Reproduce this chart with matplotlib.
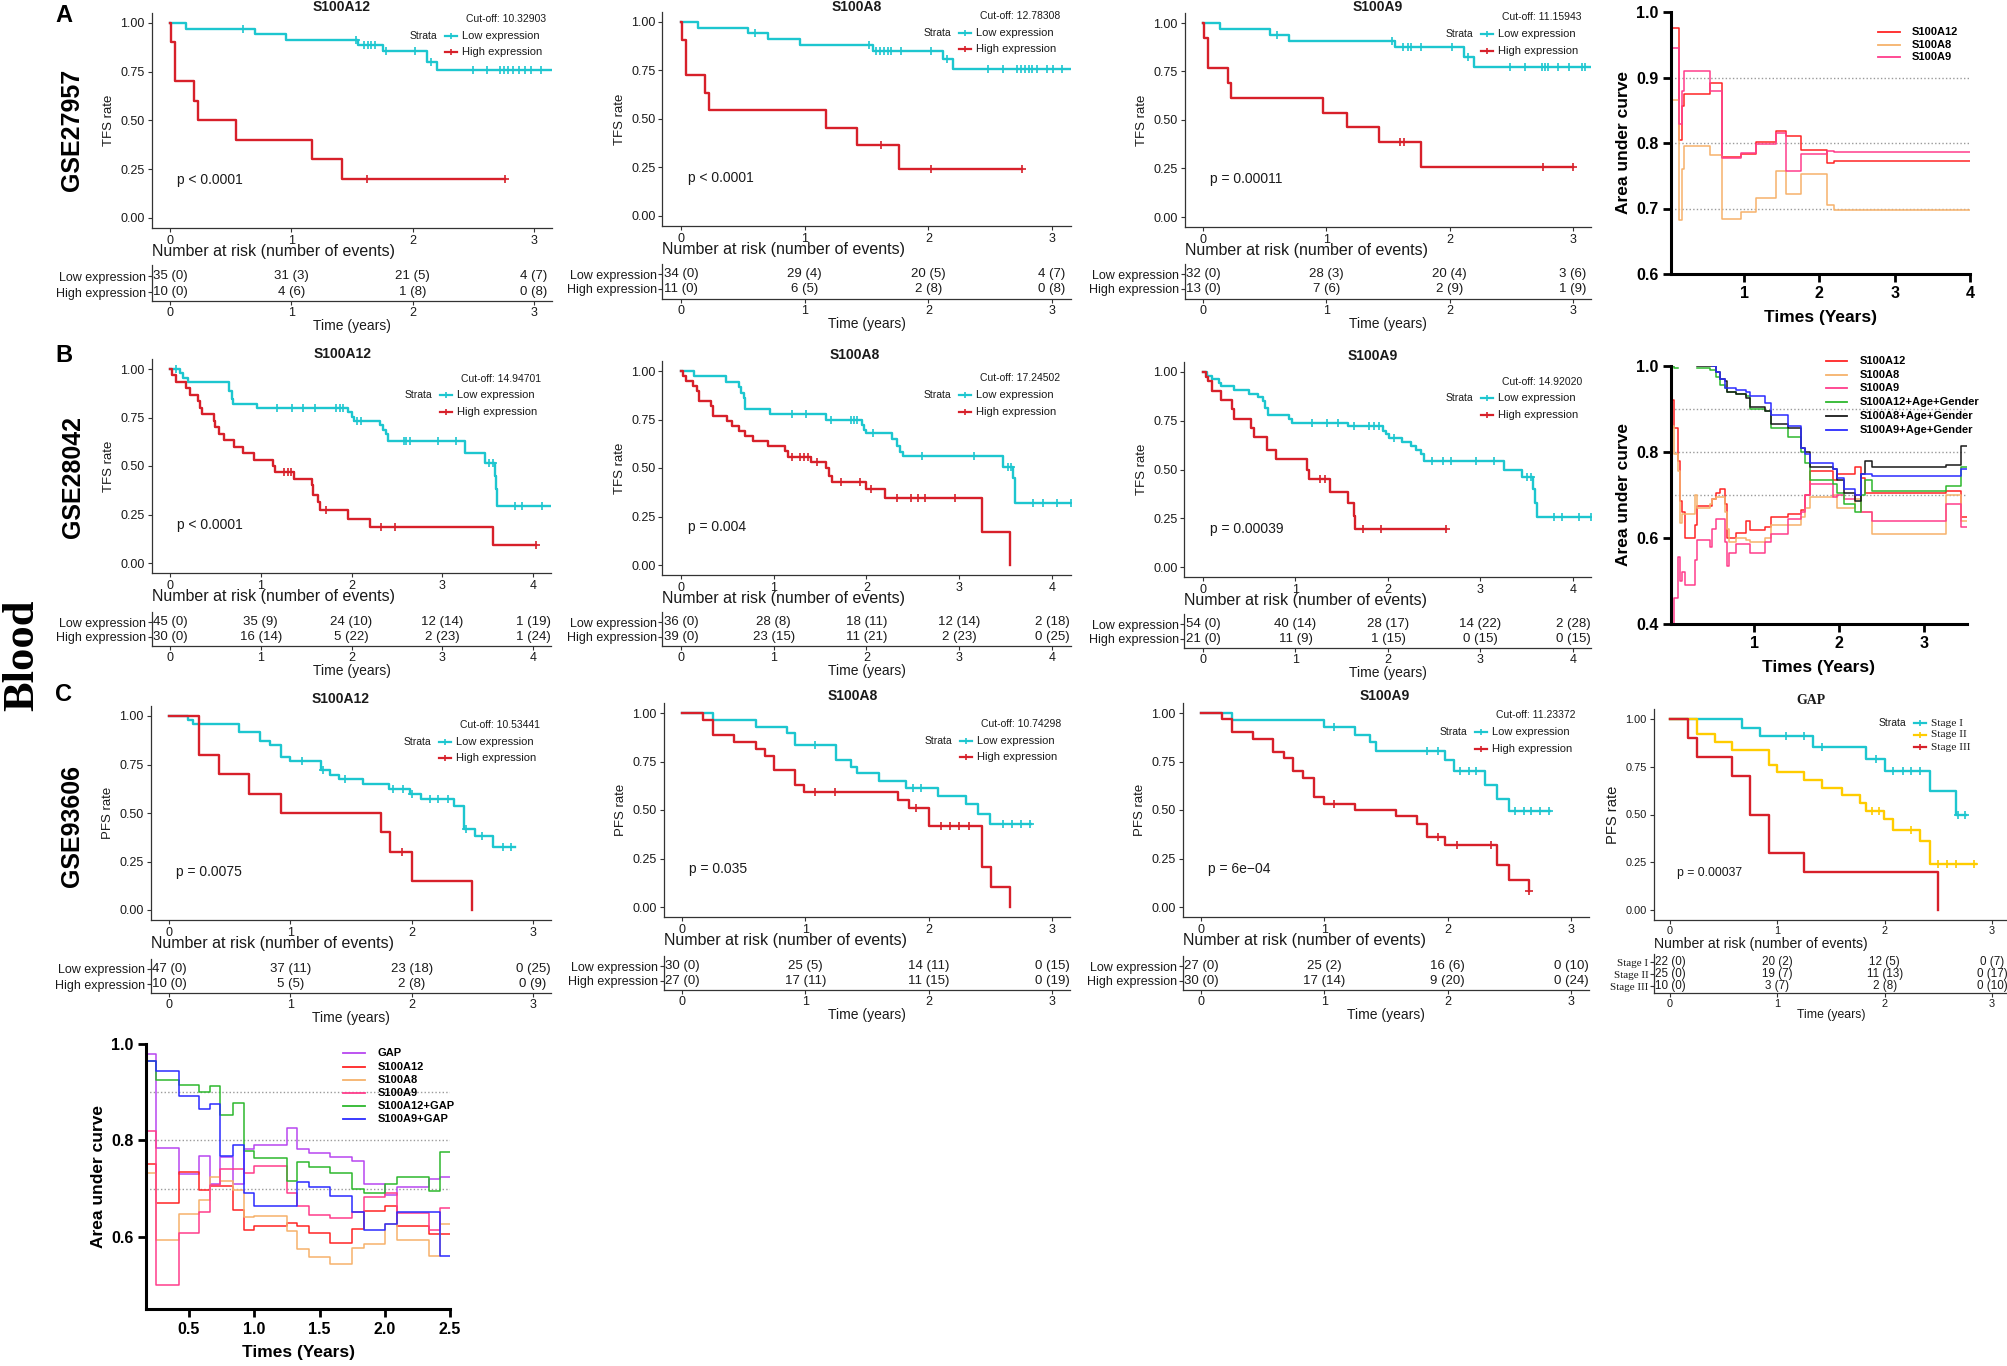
import numpy as np
import matplotlib.pyplot as plt
from matplotlib.lines import Line2D

plt.rcParams['font.family'] = ['Liberation Sans', 'DejaVu Sans']
nan = np.nan

# ---------------- Kaplan-Meier curves ----------------
# row A : GSE27957, TFS
A_a12_lo_t = [0, 0.13, 0.70, 0.96, 1.55, 1.76, 2.12, 2.20]
A_a12_lo_s = [1.0, 0.971, 0.943, 0.914, 0.886, 0.857, 0.800, 0.757]
A_a12_lo_c = [0.6, 1.53, 1.6, 1.63, 1.66, 1.69, 1.78, 2.02, 2.15, 2.5, 2.61, 2.72, 2.75,
              2.79, 2.83, 2.88, 2.93, 2.98, 3.06]
A_a12_lo_end = 3.15
A_a12_hi_t = [0, 0.01, 0.04, 0.20, 0.23, 0.54, 1.17, 1.42]
A_a12_hi_s = [1.0, 0.9, 0.7, 0.6, 0.5, 0.4, 0.3, 0.2]
A_a12_hi_c = [1.62, 2.76]
A_a12_hi_end = 2.76
A_a12_lo_n, A_a12_lo_e = [35, 31, 21, 4], [0, 3, 5, 7]
A_a12_hi_n, A_a12_hi_e = [10, 4, 1, 0], [0, 6, 8, 8]

A_a8_lo_t = [0, 0.14, 0.54, 0.70, 0.96, 1.55, 2.12, 2.20]
A_a8_lo_s = [1.0, 0.971, 0.941, 0.912, 0.882, 0.853, 0.810, 0.758]
A_a8_lo_c = [0.6, 1.52, 1.58, 1.61, 1.64, 1.67, 1.7, 1.78, 2.02, 2.15, 2.48, 2.6, 2.72, 2.75,
             2.78, 2.81, 2.84, 2.88, 2.96, 3.01, 3.08]
A_a8_lo_end = 3.15
A_a8_hi_t = [0, 0.01, 0.04, 0.19, 0.23, 1.17, 1.42, 1.76]
A_a8_hi_s = [1.0, 0.909, 0.727, 0.636, 0.545, 0.455, 0.364, 0.243]
A_a8_hi_c = [1.62, 2.02, 2.76]
A_a8_hi_end = 2.76
A_a8_lo_n, A_a8_lo_e = [34, 29, 20, 4], [0, 4, 5, 7]
A_a8_hi_n, A_a8_hi_e = [11, 6, 2, 0], [0, 5, 8, 8]

A_a9_lo_t = [0, 0.14, 0.54, 0.70, 1.56, 2.12, 2.20]
A_a9_lo_s = [1.0, 0.969, 0.938, 0.906, 0.875, 0.827, 0.772]
A_a9_lo_c = [0.6, 1.53, 1.62, 1.66, 1.69, 1.77, 2.02, 2.15, 2.49, 2.61, 2.75, 2.77, 2.8,
             2.88, 2.97, 3.07, 3.1]
A_a9_lo_end = 3.15
A_a9_hi_t = [0, 0.01, 0.04, 0.20, 0.23, 0.97, 1.17, 1.43, 1.77]
A_a9_hi_s = [1.0, 0.923, 0.769, 0.692, 0.615, 0.538, 0.462, 0.385, 0.256]
A_a9_hi_c = [1.6, 1.63, 2.76, 3.0]
A_a9_hi_end = 3.0
A_a9_lo_n, A_a9_lo_e = [32, 28, 20, 3], [0, 3, 4, 6]
A_a9_hi_n, A_a9_hi_e = [13, 7, 2, 1], [0, 6, 9, 9]

# row B : GSE28042, TFS
B_a12_lo_t = [0, 0.11, 0.14, 0.20, 0.65, 0.68, 0.69, 0.96, 1.96, 2.00, 2.03, 2.31, 2.35,
              2.38, 2.40, 3.25, 3.47, 3.58, 3.59, 3.60]
B_a12_lo_s = [1.0, 0.978, 0.956, 0.933, 0.889, 0.844, 0.822, 0.800, 0.777, 0.755, 0.733,
              0.710, 0.688, 0.665, 0.627, 0.567, 0.513, 0.447, 0.380, 0.295]
B_a12_lo_c = [0.07, 1.18, 1.34, 1.47, 1.6, 1.83, 1.87, 1.91, 2.06, 2.1, 2.58, 2.6, 2.65,
              2.95, 3.15, 3.52, 3.56, 3.8, 3.88, 4.1]
B_a12_lo_end = 4.2
B_a12_hi_t = [0, 0.02, 0.07, 0.18, 0.22, 0.31, 0.33, 0.35, 0.49, 0.50, 0.54, 0.59, 0.71,
              0.80, 0.93, 1.13, 1.16, 1.37, 1.56, 1.58, 1.63, 1.65, 1.96, 2.20, 3.56]
B_a12_hi_s = [1.0, 0.967, 0.933, 0.900, 0.867, 0.833, 0.800, 0.767, 0.733, 0.700, 0.667,
              0.633, 0.600, 0.567, 0.533, 0.500, 0.467, 0.433, 0.400, 0.350, 0.317, 0.275,
              0.229, 0.183, 0.092]
B_a12_hi_c = [1.26, 1.3, 1.33, 1.72, 2.32, 2.48, 4.03]
B_a12_hi_end = 4.03
B_a12_lo_n, B_a12_lo_e = [45, 35, 24, 12, 1], [0, 9, 10, 14, 19]
B_a12_hi_n, B_a12_hi_e = [30, 16, 5, 2, 1], [0, 14, 22, 23, 24]

B_a8_lo_t = [0, 0.14, 0.49, 0.62, 0.65, 0.68, 0.69, 0.96, 1.56, 1.95, 1.97, 2.00, 2.27,
             2.33, 2.36, 2.39, 3.47, 3.58, 3.60]
B_a8_lo_s = [1.0, 0.972, 0.944, 0.917, 0.889, 0.861, 0.806, 0.778, 0.750, 0.720, 0.694,
             0.679, 0.647, 0.613, 0.580, 0.562, 0.507, 0.450, 0.318]
B_a8_lo_c = [1.2, 1.35, 1.62, 1.83, 1.87, 1.9, 2.07, 2.6, 3.16, 3.53, 3.56, 3.8, 3.9,
             4.05, 4.2]
B_a8_lo_end = 4.2
B_a8_hi_t = [0, 0.02, 0.05, 0.13, 0.17, 0.19, 0.32, 0.34, 0.50, 0.55, 0.62, 0.69, 0.78,
             0.94, 1.12, 1.15, 1.40, 1.56, 1.60, 1.63, 2.00, 2.20, 3.25, 3.55]
B_a8_hi_s = [1.0, 0.974, 0.949, 0.923, 0.897, 0.846, 0.821, 0.769, 0.744, 0.718, 0.692,
             0.667, 0.641, 0.615, 0.590, 0.558, 0.533, 0.498, 0.460, 0.426, 0.392, 0.345,
             0.172, 0.0]
B_a8_hi_c = [1.2, 1.28, 1.33, 1.37, 1.47, 1.73, 1.93, 2.05, 2.33, 2.48, 2.56, 2.63, 2.95]
B_a8_hi_end = 3.55
B_a8_lo_n, B_a8_lo_e = [36, 28, 18, 12, 2], [0, 8, 11, 14, 18]
B_a8_hi_n, B_a8_hi_e = [39, 23, 11, 2, 0], [0, 15, 21, 23, 25]

B_a9_lo_t = [0, 0.04, 0.10, 0.17, 0.20, 0.33, 0.50, 0.60, 0.65, 0.67, 0.70, 0.93, 0.96,
             1.57, 1.95, 1.98, 2.01, 2.15, 2.25, 2.30, 2.36, 2.39, 3.25, 3.45, 3.57, 3.59,
             3.61]
B_a9_lo_s = [1.0, 0.981, 0.963, 0.944, 0.926, 0.907, 0.889, 0.870, 0.852, 0.815, 0.778,
             0.759, 0.741, 0.724, 0.700, 0.680, 0.659, 0.640, 0.620, 0.600, 0.580, 0.546,
             0.500, 0.463, 0.400, 0.330, 0.256]
B_a9_lo_c = [1.18, 1.34, 1.46, 1.63, 1.8, 1.85, 1.9, 2.06, 2.48, 2.6, 2.68, 2.95, 3.15,
             3.5, 3.55, 3.8, 3.88, 4.07, 4.2]
B_a9_lo_end = 4.2
B_a9_hi_t = [0, 0.03, 0.05, 0.10, 0.20, 0.31, 0.33, 0.52, 0.55, 0.69, 0.79, 1.12, 1.15,
             1.37, 1.57, 1.63, 1.64]
B_a9_hi_s = [1.0, 0.976, 0.952, 0.905, 0.857, 0.810, 0.757, 0.712, 0.667, 0.600, 0.552,
             0.500, 0.453, 0.386, 0.326, 0.260, 0.193]
B_a9_hi_c = [1.27, 1.32, 1.73, 1.92, 2.63]
B_a9_hi_end = 2.63
B_a9_lo_n, B_a9_lo_e = [54, 40, 28, 14, 2], [0, 14, 17, 22, 28]
B_a9_hi_n, B_a9_hi_e = [21, 11, 1, 0, 0], [0, 9, 15, 15, 15]

# row C : GSE93606, PFS
C_a12_lo_t = [0, 0.16, 0.20, 0.58, 0.75, 0.83, 0.92, 1.00, 1.25, 1.33, 1.40, 1.60, 1.81,
              1.99, 2.08, 2.35, 2.43, 2.52, 2.67]
C_a12_lo_s = [1.0, 0.979, 0.957, 0.915, 0.872, 0.851, 0.787, 0.766, 0.722, 0.697, 0.673,
              0.647, 0.622, 0.598, 0.570, 0.535, 0.420, 0.380, 0.326]
C_a12_lo_c = [1.1, 1.27, 1.45, 1.85, 1.93, 2.0, 2.15, 2.22, 2.3, 2.45, 2.58, 2.75, 2.82]
C_a12_lo_end = 2.85
C_a12_hi_t = [0, 0.25, 0.41, 0.66, 0.92, 1.75, 1.82, 2.00, 2.50]
C_a12_hi_s = [1.0, 0.8, 0.7, 0.6, 0.5, 0.4, 0.3, 0.15, 0.0]
C_a12_hi_c = [1.92]
C_a12_hi_end = 2.5
C_a12_lo_n, C_a12_lo_e = [47, 37, 23, 0], [0, 11, 18, 25]
C_a12_hi_n, C_a12_hi_e = [10, 5, 2, 0], [0, 5, 8, 9]

C_a8_lo_t = [0, 0.25, 0.60, 0.85, 0.92, 1.25, 1.37, 1.42, 1.60, 1.82, 2.08, 2.30, 2.40, 2.50]
C_a8_lo_s = [1.0, 0.963, 0.926, 0.899, 0.833, 0.760, 0.720, 0.690, 0.650, 0.615, 0.570,
             0.530, 0.477, 0.427]
C_a8_lo_c = [1.08, 1.87, 1.94, 2.6, 2.68, 2.75, 2.82]
C_a8_lo_end = 2.83
C_a8_hi_t = [0, 0.17, 0.25, 0.42, 0.60, 0.67, 0.75, 0.92, 0.99, 1.75, 1.84, 2.00, 2.43,
             2.51, 2.66]
C_a8_hi_s = [1.0, 0.963, 0.889, 0.852, 0.815, 0.778, 0.704, 0.630, 0.593, 0.552, 0.510,
             0.415, 0.207, 0.103, 0.0]
C_a8_hi_c = [1.08, 1.24, 1.9, 2.1, 2.17, 2.25, 2.33]
C_a8_hi_end = 2.66
C_a8_lo_n, C_a8_lo_e = [30, 25, 14, 0], [0, 5, 11, 15]
C_a8_hi_n, C_a8_hi_e = [27, 17, 11, 0], [0, 11, 15, 19]

C_a9_lo_t = [0, 0.25, 1.00, 1.25, 1.37, 1.42, 1.98, 2.05, 2.30, 2.40, 2.50]
C_a9_lo_s = [1.0, 0.963, 0.926, 0.889, 0.852, 0.805, 0.760, 0.700, 0.628, 0.559, 0.494]
C_a9_lo_c = [1.08, 1.83, 1.92, 2.1, 2.17, 2.23, 2.55, 2.62, 2.68, 2.75, 2.82]
C_a9_lo_end = 2.83
C_a9_hi_t = [0, 0.17, 0.25, 0.42, 0.58, 0.67, 0.75, 0.83, 0.92, 1.00, 1.25, 1.58, 1.75,
             1.83, 1.98, 2.40, 2.50, 2.66]
C_a9_hi_s = [1.0, 0.967, 0.900, 0.867, 0.800, 0.767, 0.700, 0.667, 0.567, 0.533, 0.500,
             0.467, 0.430, 0.360, 0.320, 0.215, 0.140, 0.080]
C_a9_hi_c = [1.08, 1.92, 2.08, 2.35, 2.66]
C_a9_hi_end = 2.66
C_a9_lo_n, C_a9_lo_e = [27, 25, 16, 0], [0, 2, 6, 10]
C_a9_hi_n, C_a9_hi_e = [30, 17, 9, 0], [0, 14, 20, 24]

# GAP stages (GSE93606)
GAP_1_t = [0, 0.67, 0.84, 1.33, 1.83, 2.00, 2.42, 2.67]
GAP_1_s = [1.0, 0.955, 0.909, 0.852, 0.790, 0.726, 0.625, 0.500]
GAP_1_c = [1.08, 1.25, 1.42, 1.92, 2.08, 2.17, 2.25, 2.33, 2.68, 2.75]
GAP_1_end = 2.76
GAP_2_t = [0, 0.25, 0.42, 0.58, 0.92, 1.00, 1.25, 1.42, 1.60, 1.77, 1.83, 1.99, 2.08, 2.33, 2.42]
GAP_2_s = [1.0, 0.92, 0.88, 0.84, 0.76, 0.72, 0.68, 0.64, 0.60, 0.56, 0.52, 0.475, 0.42, 0.36, 0.24]
GAP_2_c = [1.88, 1.95, 2.25, 2.5, 2.58, 2.67, 2.83]
GAP_2_end = 2.85
GAP_3_t = [0, 0.17, 0.25, 0.58, 0.75, 0.92, 1.25, 2.50]
GAP_3_s = [1.0, 0.9, 0.8, 0.7, 0.5, 0.3, 0.2, 0.0]
GAP_3_c = []
GAP_3_end = 2.5
GAP_1_n, GAP_1_e = [22, 20, 12, 0], [0, 2, 5, 7]
GAP_2_n, GAP_2_e = [25, 19, 11, 0], [0, 7, 13, 17]
GAP_3_n, GAP_3_e = [10, 3, 2, 0], [0, 7, 8, 10]

# ---------------- time-dependent AUC curves ----------------
AUC_A_t = [0.025, 0.04, 0.13, 0.18, 0.20, 0.55, 0.71, 0.96, 1.16, 1.42, 1.56, 1.76, 2.10, 2.20]
AUC_A_a12 = [0.96, 0.976, 0.805, 0.856, 0.875, 0.891, 0.778, 0.783, 0.802, 0.818, 0.81, 0.79, 0.769, 0.772]
AUC_A_a8 = [0.77, 0.865, 0.683, 0.76, 0.795, 0.782, 0.684, 0.695, 0.716, 0.757, 0.722, 0.752, 0.705, 0.698]
AUC_A_a9 = [0.93, 0.945, 0.829, 0.88, 0.91, 0.88, 0.777, 0.785, 0.798, 0.815, 0.758, 0.783, 0.788, 0.786]

AUC_B_t = [0.02, 0.05, 0.10, 0.12, 0.15, 0.18, 0.30, 0.33, 0.48, 0.50, 0.55, 0.60, 0.65,
           0.68, 0.70, 0.78, 0.90, 0.95, 1.12, 1.20, 1.40, 1.55, 1.60, 1.65, 1.92, 1.97,
           2.05, 2.18, 2.25, 2.30, 2.38, 3.25, 3.43]
AUC_B_a12 = [0.92, 0.855, 0.78, 0.685, 0.66, 0.60, 0.63, 0.675, 0.675, 0.69, 0.705, 0.715,
             0.68, 0.60, 0.60, 0.612, 0.64, 0.618, 0.625, 0.65, 0.655, 0.665, 0.70, 0.755,
             0.735, 0.75, 0.75, 0.765, 0.74, 0.705, 0.705, 0.71, 0.65]
AUC_B_a8 = [0.86, 0.795, 0.755, 0.635, 0.655, 0.655, 0.70, 0.67, 0.68, 0.69, 0.695, 0.695,
            0.66, 0.62, 0.59, 0.60, 0.595, 0.59, 0.60, 0.63, 0.63, 0.65, 0.67, 0.695, 0.70,
            0.67, 0.67, 0.69, 0.66, 0.66, 0.61, 0.70, 0.64]
AUC_B_a9 = [0.40, 0.46, 0.555, 0.50, 0.52, 0.49, 0.55, 0.595, 0.58, 0.62, 0.645, 0.645,
            0.59, 0.535, 0.565, 0.585, 0.585, 0.565, 0.59, 0.61, 0.645, 0.66, 0.70, 0.725,
            0.695, 0.70, 0.69, 0.70, 0.66, 0.66, 0.64, 0.68, 0.625]
AUC_B_a12ag = [1.0, 0.995, nan, nan, nan, nan, nan, 0.995, 0.99, 0.99, 0.975, 0.955, 0.95,
               0.94, 0.94, 0.935, 0.93, 0.90, 0.895, 0.855, 0.835, 0.80, 0.775, 0.735,
               0.725, 0.705, 0.68, 0.66, 0.70, 0.735, 0.71, 0.72, 0.765]
AUC_B_a8ag = [nan, nan, nan, nan, nan, nan, nan, 1.0, 1.0, 1.0, 0.985, 0.97, 0.965, 0.94,
              0.94, 0.935, 0.925, 0.905, 0.895, 0.865, 0.855, 0.81, 0.80, 0.765, 0.76,
              0.735, 0.705, 0.685, 0.75, 0.78, 0.765, 0.77, 0.815]
AUC_B_a9ag = [nan, nan, nan, nan, nan, nan, nan, nan, nan, 1.0, 0.985, 0.97, 0.95, 0.95,
              0.95, 0.945, 0.94, 0.93, 0.915, 0.885, 0.86, 0.81, 0.795, 0.775, 0.76, 0.74,
              0.715, 0.70, 0.75, 0.75, 0.745, 0.745, 0.76]

AUC_D_t = [0.17, 0.25, 0.42, 0.58, 0.66, 0.74, 0.84, 0.92, 1.00, 1.25, 1.33, 1.42, 1.58,
           1.75, 1.84, 2.00, 2.09, 2.34, 2.42]
AUC_D_gap = [0.98, 0.785, 0.73, 0.768, 0.71, 0.765, 0.71, 0.782, 0.79, 0.825, 0.783, 0.773,
             0.765, 0.757, 0.71, 0.687, 0.703, 0.72, 0.724]
AUC_D_a12 = [0.75, 0.67, 0.735, 0.697, 0.705, 0.705, 0.655, 0.615, 0.623, 0.628, 0.623,
             0.607, 0.587, 0.617, 0.653, 0.663, 0.622, 0.606, 0.606]
AUC_D_a8 = [0.733, 0.594, 0.648, 0.677, 0.725, 0.715, 0.697, 0.64, 0.643, 0.612, 0.575,
            0.558, 0.543, 0.577, 0.585, 0.627, 0.594, 0.56, 0.627]
AUC_D_a9 = [0.82, 0.5, 0.608, 0.652, 0.707, 0.74, 0.74, 0.732, 0.747, 0.69, 0.663, 0.646,
            0.639, 0.651, 0.683, 0.69, 0.65, 0.613, 0.66]
AUC_D_a12gap = [0.965, 0.925, 0.915, 0.90, 0.912, 0.852, 0.877, 0.778, 0.764, 0.716, 0.756,
                0.745, 0.732, 0.70, 0.69, 0.71, 0.724, 0.695, 0.775]
AUC_D_a9gap = [0.965, 0.945, 0.893, 0.866, 0.875, 0.768, 0.79, 0.69, 0.663, 0.663, 0.714,
               0.704, 0.685, 0.651, 0.615, 0.626, 0.652, 0.652, 0.56]

# ---------------- drawing ----------------
W, H = 2008, 1366
fig = plt.figure(figsize=(W / 100, H / 100), dpi=100)

CYAN = '#1dc6cf'
RED = '#d7202a'
GOLD = '#ffcc00'
INK = '#1a1a1a'
AXC = '#333333'
SERIF = ['Liberation Serif', 'DejaVu Serif']


def px_axes(left, top, right, bottom):
    return fig.add_axes([left / W, 1 - bottom / H, (right - left) / W, (bottom - top) / H])


def ftext(x, y, s, **kw):
    return fig.text(x / W, 1 - y / H, s, **kw)


def fline(x1, x2, y, **kw):
    fig.add_artist(Line2D([x1 / W, x2 / W], [1 - y / H, 1 - y / H], **kw))


def km_panel(pos, tmax, curves, names, title, ylab, pval, cutoff, leg, risk, rowpx,
             k=1.0, serif=False):
    x0, xper, y1, y0 = pos
    yper = y0 - y1
    xlim = (-0.05 * tmax, 1.05 * tmax)
    left, right = x0 + xlim[0] * xper, x0 + xlim[1] * xper
    bottom = y0 + 0.05 * yper
    ticks = list(range(tmax + 1))
    nfam = SERIF if serif else None

    ax = px_axes(left, y1 - 0.05 * yper, right, bottom)
    for t, s, c, end, col in curves:
        ax.step(t + [end], s + [s[-1]], where='post', color=col, lw=1.7)
        if c:
            i = np.searchsorted(t, c, side='right') - 1
            ax.plot(c, np.asarray(s)[i], ls='none', marker='+', ms=5.5, mew=1.2, color=col)
    ax.set_xlim(xlim)
    ax.set_ylim(-0.05, 1.05)
    ax.set_xticks(ticks)
    ax.set_yticks([0, 0.25, 0.5, 0.75, 1.0], ['0.00', '0.25', '0.50', '0.75', '1.00'])
    for sp in ('top', 'right'):
        ax.spines[sp].set_visible(False)
    for sp in ('left', 'bottom'):
        ax.spines[sp].set_color(AXC)
        ax.spines[sp].set_linewidth(0.9)
    ax.tick_params(labelsize=9 * k, length=3, pad=2, color=AXC, labelcolor=INK)
    ax.set_ylabel(ylab, fontsize=9.5 * (1.12 if serif else 1), labelpad=4, color=INK)
    name, tx, ty = title
    ftext(tx, ty, name, ha='center', va='center', fontsize=10, fontweight='bold',
          family=nfam, color=INK)
    ax.text(7 / xper, 0.195, pval, fontsize=10 * k, va='center', color=INK)

    # legend
    R, ycut, rows = leg
    if cutoff:
        ftext(R, ycut, cutoff, ha='right', va='center', fontsize=7.5, color=INK)
    ftext(R - 109, rows[0], 'Strata', ha='right', va='center', fontsize=7.5, color=INK)
    for yy, nm, cv in zip(rows, names, curves):
        fline(R - 101, R - 89, yy, color=cv[4], lw=1.6)
        fig.add_artist(Line2D([(R - 95) / W], [1 - yy / H], marker='+', ms=5, mew=1.2,
                              color=cv[4]))
        ftext(R - 84, yy, nm, va='center', fontsize=8 * (1.02 if serif else 1), color=INK,
              family=nfam)

    ftext(left, bottom + 24, 'Number at risk (number of events)', va='center',
          fontsize=11.5 * k, color=INK)

    # risk table
    ytop, ybot, yline = rowpx
    nr = len(risk)
    d = (ybot - ytop) / (nr - 1)
    rax = px_axes(left, ytop - 0.7 * d, right, yline)
    rax.set_xlim(xlim)
    rax.set_ylim(1 - (yline - ybot) / d, nr + 0.7)
    for i, (n, e) in enumerate(risk):
        for tk, nn, ee in zip(ticks, n, e):
            rax.text(tk, nr - i, f'{nn} ({ee})', ha='center', va='center',
                     fontsize=9.5 * k, color=INK)
    rax.set_xticks(ticks)
    rax.set_yticks(list(range(nr, 0, -1)))
    if serif:
        rax.set_yticklabels(names, family=SERIF, fontsize=8)
    else:
        rax.set_yticklabels(names, fontsize=9)
    for sp in ('top', 'right'):
        rax.spines[sp].set_visible(False)
    for sp in ('left', 'bottom'):
        rax.spines[sp].set_color(AXC)
        rax.spines[sp].set_linewidth(0.9)
    rax.tick_params(axis='x', labelsize=9 * k, length=3, pad=1, color=AXC, labelcolor=INK)
    rax.tick_params(axis='y', length=3, pad=1, color=AXC, labelcolor=INK)
    rax.set_xlabel('Time (years)', fontsize=10 * k, labelpad=0, color=INK)


def auc_panel(rect, xlim, ylim, xticks, xlabs, yticks, ylabs, t, end, series, leg):
    ax = px_axes(*rect)
    for yv in (0.7, 0.8, 0.9):
        ax.plot(xlim, [yv, yv], color='#9a9a9a', lw=1.0, ls=(0, (1, 1.6)), zorder=0)
    for vals, col, lab in series:
        ax.step(t + [end], vals + [vals[-1]], where='post', color=col, lw=1.1)
    ax.set_xlim(xlim)
    ax.set_ylim(ylim)
    ax.set_xticks(xticks, xlabs, fontweight='bold', fontsize=11.5)
    ax.set_yticks(yticks, ylabs, fontweight='bold', fontsize=11.5)
    for sp in ('top', 'right'):
        ax.spines[sp].set_visible(False)
    for sp in ('left', 'bottom'):
        ax.spines[sp].set_linewidth(2.2)
        ax.spines[sp].set_color('black')
    ax.tick_params(width=2, length=6, pad=3)
    ax.set_xlabel('Times (Years)', fontsize=12.5, fontweight='bold', labelpad=6)
    ax.set_ylabel('Area under curve', fontsize=12.5, fontweight='bold', labelpad=4)
    x1, x2, xt, rows = leg
    for yy, (vals, col, lab) in zip(rows, series):
        fline(x1, x2, yy, color=col, lw=1.3)
        ftext(xt, yy, lab, va='center', fontsize=8, fontweight='bold')


LOHI = ['Low expression', 'High expression']

# ---- row A ----
km_panel((170, 121.3, 23, 218), 3,
         [(A_a12_lo_t, A_a12_lo_s, A_a12_lo_c, A_a12_lo_end, CYAN),
          (A_a12_hi_t, A_a12_hi_s, A_a12_hi_c, A_a12_hi_end, RED)],
         LOHI, ('S100A12', 342, 7), 'TFS rate', 'p < 0.0001', 'Cut-off: 10.32903',
         (546, 19, [36, 52]),
         [(A_a12_lo_n, A_a12_lo_e), (A_a12_hi_n, A_a12_hi_e)], (276, 292, 301))
km_panel((681, 123.7, 22, 216), 3,
         [(A_a8_lo_t, A_a8_lo_s, A_a8_lo_c, A_a8_lo_end, CYAN),
          (A_a8_hi_t, A_a8_hi_s, A_a8_hi_c, A_a8_hi_end, RED)],
         LOHI, ('S100A8', 857, 7), 'TFS rate', 'p < 0.0001', 'Cut-off: 12.78308',
         (1060, 16, [33, 49]),
         [(A_a8_lo_n, A_a8_lo_e), (A_a8_hi_n, A_a8_hi_e)], (274, 289, 299))
km_panel((1203, 123.3, 23, 217), 3,
         [(A_a9_lo_t, A_a9_lo_s, A_a9_lo_c, A_a9_lo_end, CYAN),
          (A_a9_hi_t, A_a9_hi_s, A_a9_hi_c, A_a9_hi_end, RED)],
         LOHI, ('S100A9', 1378, 7), 'TFS rate', 'p = 0.00011', 'Cut-off: 11.15943',
         (1582, 17, [34, 51]),
         [(A_a9_lo_n, A_a9_lo_e), (A_a9_hi_n, A_a9_hi_e)], (274, 289, 299))

# ---- row B ----
km_panel((170, 90.75, 369, 563), 4,
         [(B_a12_lo_t, B_a12_lo_s, B_a12_lo_c, B_a12_lo_end, CYAN),
          (B_a12_hi_t, B_a12_hi_s, B_a12_hi_c, B_a12_hi_end, RED)],
         LOHI, ('S100A12', 343, 354), 'TFS rate', 'p < 0.0001', 'Cut-off: 14.94701',
         (541, 379, [395, 412]),
         [(B_a12_lo_n, B_a12_lo_e), (B_a12_hi_n, B_a12_hi_e)], (622, 637, 646))
km_panel((681, 92.75, 371, 565), 4,
         [(B_a8_lo_t, B_a8_lo_s, B_a8_lo_c, B_a8_lo_end, CYAN),
          (B_a8_hi_t, B_a8_hi_s, B_a8_hi_c, B_a8_hi_end, RED)],
         LOHI, ('S100A8', 855, 355), 'TFS rate', 'p = 0.004', 'Cut-off: 17.24502',
         (1060, 378, [395, 412]),
         [(B_a8_lo_n, B_a8_lo_e), (B_a8_hi_n, B_a8_hi_e)], (622, 637, 646))
km_panel((1203, 92.5, 372, 567), 4,
         [(B_a9_lo_t, B_a9_lo_s, B_a9_lo_c, B_a9_lo_end, CYAN),
          (B_a9_hi_t, B_a9_hi_s, B_a9_hi_c, B_a9_hi_end, RED)],
         LOHI, ('S100A9', 1373, 356), 'TFS rate', 'p = 0.00039', 'Cut-off: 14.92020',
         (1582, 382, [398, 415]),
         [(B_a9_lo_n, B_a9_lo_e), (B_a9_hi_n, B_a9_hi_e)], (624, 639, 648))

# ---- row C ----
km_panel((169, 121.3, 716, 910), 3,
         [(C_a12_lo_t, C_a12_lo_s, C_a12_lo_c, C_a12_lo_end, CYAN),
          (C_a12_hi_t, C_a12_hi_s, C_a12_hi_c, C_a12_hi_end, RED)],
         LOHI, ('S100A12', 341, 699), 'PFS rate', 'p = 0.0075', 'Cut-off: 10.53441',
         (540, 725, [742, 758]),
         [(C_a12_lo_n, C_a12_lo_e), (C_a12_hi_n, C_a12_hi_e)], (969, 984, 993))
km_panel((682, 123.3, 713, 907), 3,
         [(C_a8_lo_t, C_a8_lo_s, C_a8_lo_c, C_a8_lo_end, CYAN),
          (C_a8_hi_t, C_a8_hi_s, C_a8_hi_c, C_a8_hi_end, RED)],
         LOHI, ('S100A8', 853, 696), 'PFS rate', 'p = 0.035', 'Cut-off: 10.74298',
         (1061, 724, [741, 757]),
         [(C_a8_lo_n, C_a8_lo_e), (C_a8_hi_n, C_a8_hi_e)], (966, 981, 990))
km_panel((1201, 123.3, 713, 907), 3,
         [(C_a9_lo_t, C_a9_lo_s, C_a9_lo_c, C_a9_lo_end, CYAN),
          (C_a9_hi_t, C_a9_hi_s, C_a9_hi_c, C_a9_hi_end, RED)],
         LOHI, ('S100A9', 1385, 696), 'PFS rate', 'p = 6e\u221204', 'Cut-off: 11.23372',
         (1576, 715, [732, 749]),
         [(C_a9_lo_n, C_a9_lo_e), (C_a9_hi_n, C_a9_hi_e)], (966, 981, 990))
km_panel((1670, 107.3, 719, 910), 3,
         [(GAP_1_t, GAP_1_s, GAP_1_c, GAP_1_end, CYAN),
          (GAP_2_t, GAP_2_s, GAP_2_c, GAP_2_end, GOLD),
          (GAP_3_t, GAP_3_s, GAP_3_c, GAP_3_end, RED)],
         ['Stage I', 'Stage II', 'Stage III'], ('GAP', 1811, 700), 'PFS rate',
         'p = 0.00037', None, (2015, 0, [723, 735, 747]),
         [(GAP_1_n, GAP_1_e), (GAP_2_n, GAP_2_e), (GAP_3_n, GAP_3_e)], (962, 986, 993),
         k=0.88, serif=True)

# ---- AUC panels ----
A_RED, A_ORG, A_PNK = '#ff2424', '#f6b26b', '#ff3d8b'
auc_panel((1671, 12, 1970, 274), (0.03, 4.0), (0.6, 1.0), [1, 2, 3, 4], ['1', '2', '3', '4'],
          [0.6, 0.7, 0.8, 0.9, 1.0], ['0.6', '0.7', '0.8', '0.9', '1.0'], AUC_A_t, 4.0,
          [(AUC_A_a12, A_RED, 'S100A12'), (AUC_A_a8, A_ORG, 'S100A8'),
           (AUC_A_a9, A_PNK, 'S100A9')],
          (1878, 1900, 1912, [32, 45, 57]))
auc_panel((1671, 366, 1967, 624), (0.02, 3.5), (0.4, 1.0), [1, 2, 3], ['1', '2', '3'],
          [0.4, 0.6, 0.8, 1.0], ['0.4', '0.6', '0.8', '1.0'], AUC_B_t, 3.5,
          [(AUC_B_a12, A_RED, 'S100A12'), (AUC_B_a8, A_ORG, 'S100A8'),
           (AUC_B_a9, A_PNK, 'S100A9'), (AUC_B_a12ag, '#2db82d', 'S100A12+Age+Gender'),
           (AUC_B_a8ag, '#1a1a1a', 'S100A8+Age+Gender'),
           (AUC_B_a9ag, '#2b2bff', 'S100A9+Age+Gender')],
          (1826, 1847, 1860, [361, 375, 388, 402, 416, 430]))
auc_panel((146, 1044, 450, 1309), (0.17, 2.5), (0.45, 1.0), [0.5, 1.0, 1.5, 2.0, 2.5],
          ['0.5', '1.0', '1.5', '2.0', '2.5'], [0.6, 0.8, 1.0], ['0.6', '0.8', '1.0'],
          AUC_D_t, 2.5,
          [(AUC_D_gap, '#b847f0', 'GAP'), (AUC_D_a12, A_RED, 'S100A12'),
           (AUC_D_a8, A_ORG, 'S100A8'), (AUC_D_a9, A_PNK, 'S100A9'),
           (AUC_D_a12gap, '#2db82d', 'S100A12+GAP'), (AUC_D_a9gap, '#2b2bff', 'S100A9+GAP')],
          (343, 365, 378, [1053, 1067, 1080, 1093, 1106, 1119]))

# ---- panel letters and side labels ----
for lab, yy in (('A', 15), ('B', 355), ('C', 695)):
    ftext(64, yy, lab, fontsize=17, fontweight='bold', ha='center', va='center')
for lab, xx, yy in (('GSE27957', 72, 130), ('GSE28042', 73, 477), ('GSE93606', 72, 826)):
    ftext(xx, yy, lab, fontsize=18, fontweight='bold', rotation=90, ha='center', va='center')
ftext(22, 655, 'Blood', fontsize=32, fontweight='bold', rotation=90, ha='center',
      va='center', family=SERIF)

fig.savefig('out.png', dpi=100)
